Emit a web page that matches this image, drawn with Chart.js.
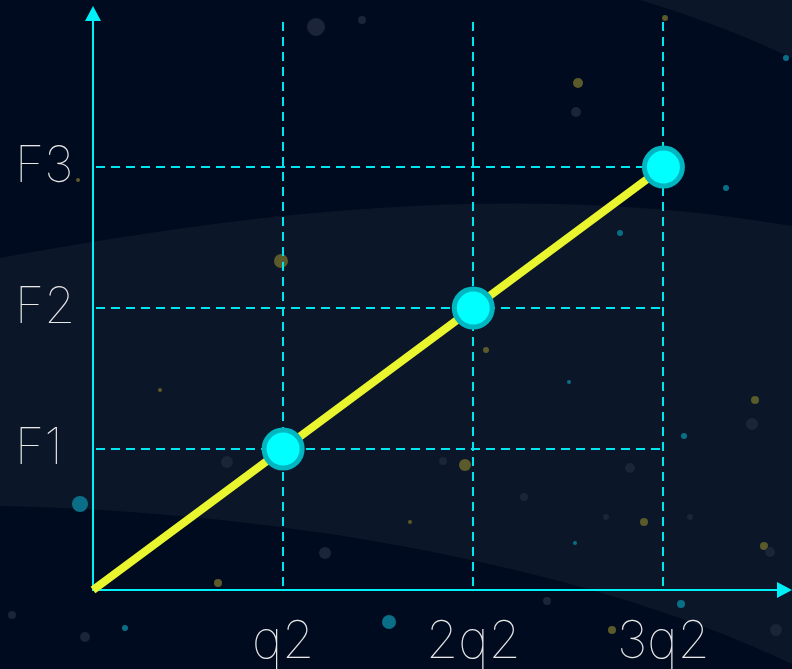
<!DOCTYPE html>
<html>
<head>
<meta charset="utf-8">
<script src="https://cdn.jsdelivr.net/npm/chart.js@4.4.0/dist/chart.umd.min.js"></script>
<style>
  html, body { margin: 0; padding: 0; background: #010b1f; }
  #wrap { width: 792px; height: 669px; position: relative; }
</style>
</head>
<body>
<div id="wrap"><canvas id="chart"></canvas></div>
<script>
// chart data
const xValues = [0, 1, 2, 3];
const yValues = [0, 1, 2, 3];
const xTickValues = [1, 2, 3];
const xTickLabels = ["q2", "2q2", "3q2"];
const yTickValues = [1, 2, 3];
const yTickLabels = ["F1", "F2", "F3"];

// background specks (decoration only)
const specks = [
  [316, 27, 9, "#1b2438"], [362, 20, 4, "#1b2438"], [665, 18, 3, "#5a5a2a"],
  [578, 83, 5, "#5a5a2a"], [576, 112, 5, "#1b2438"], [786, 58, 3, "#0a6f86"],
  [78, 180, 2, "#5a5a2a"], [726, 188, 3, "#0a6f86"], [620, 233, 3, "#0a6f86"],
  [281, 261, 7, "#5a5a2a"], [486, 350, 3, "#5a5a2a"], [160, 390, 2, "#5a5a2a"],
  [755, 400, 4, "#5a5a2a"], [684, 436, 3, "#0a6f86"], [752, 424, 6, "#1b2438"],
  [465, 465, 6, "#5a5a2a"], [630, 468, 5, "#1b2438"], [227, 462, 6, "#1b2438"],
  [80, 504, 8, "#0a6f86"], [524, 497, 4, "#1b2438"], [644, 522, 4, "#5a5a2a"],
  [764, 546, 4, "#5a5a2a"], [770, 552, 5, "#1b2438"], [325, 553, 6, "#1b2438"],
  [218, 583, 4, "#5a5a2a"], [389, 622, 7, "#0a6f86"], [125, 628, 3, "#0a6f86"],
  [681, 604, 4, "#0a6f86"], [776, 630, 6, "#1b2438"], [85, 637, 5, "#1b2438"],
  [12, 615, 4, "#1b2438"], [606, 517, 3, "#1b2438"], [410, 522, 2, "#5a5a2a"],
  [575, 543, 2, "#0a6f86"], [569, 382, 2, "#0a6f86"], [690, 517, 3, "#1b2438"],
  [443, 461, 4, "#1b2438"], [612, 630, 4, "#5a5a2a"], [547, 601, 4, "#1b2438"]
];

const backdrop = {
  id: "backdrop",
  beforeDraw(chart) {
    const ctx = chart.ctx;
    const w = chart.width, h = chart.height;
    ctx.save();
    ctx.fillStyle = "#010b1f";
    ctx.fillRect(0, 0, w, h);

    // lighter band across the middle
    ctx.fillStyle = "#0c1629";
    ctx.beginPath();
    ctx.moveTo(0, 258);
    ctx.bezierCurveTo(250, 212, 520, 180, w, 226);
    ctx.lineTo(w, 664);
    ctx.bezierCurveTo(600, 572, 300, 512, 0, 506);
    ctx.closePath();
    ctx.fill();

    // top-right corner
    ctx.beginPath();
    ctx.moveTo(640, 0);
    ctx.quadraticCurveTo(720, 24, w, 58);
    ctx.lineTo(w, 0);
    ctx.closePath();
    ctx.fill();

    specks.forEach(function (s) {
      ctx.fillStyle = s[3];
      ctx.beginPath();
      ctx.arc(s[0], s[1], s[2], 0, Math.PI * 2);
      ctx.fill();
    });
    ctx.restore();
  }
};

// dashed guides + axis arrows
const guides = {
  id: "guides",
  beforeDatasetsDraw(chart) {
    const ctx = chart.ctx;
    const xs = chart.scales.x, ys = chart.scales.y;
    const area = chart.chartArea;
    const xEnd = xs.getPixelForValue(xTickValues[xTickValues.length - 1]);
    ctx.save();
    ctx.strokeStyle = "#00e6f0";
    ctx.lineWidth = 2;
    ctx.setLineDash([9, 6]);
    xTickValues.forEach(function (v) {
      const px = Math.round(xs.getPixelForValue(v));
      ctx.beginPath();
      ctx.moveTo(px, area.top - 2);
      ctx.lineTo(px, area.bottom);
      ctx.stroke();
    });
    yTickValues.forEach(function (v) {
      const py = Math.round(ys.getPixelForValue(v));
      ctx.beginPath();
      ctx.moveTo(area.left + 3, py);
      ctx.lineTo(xEnd, py);
      ctx.stroke();
    });
    ctx.setLineDash([]);

    // axis extensions and arrow heads
    const tipX = chart.width;
    ctx.strokeStyle = "#00f0f8";
    ctx.lineWidth = 2;
    ctx.beginPath();
    ctx.moveTo(area.right, area.bottom);
    ctx.lineTo(tipX - 12, area.bottom);
    ctx.moveTo(area.left, area.top);
    ctx.lineTo(area.left, 20);
    ctx.stroke();

    ctx.fillStyle = "#00f0f8";
    ctx.beginPath();
    ctx.moveTo(area.left - 8, 21);
    ctx.lineTo(area.left + 8, 21);
    ctx.lineTo(area.left, 6);
    ctx.closePath();
    ctx.fill();
    ctx.beginPath();
    ctx.moveTo(tipX - 15, area.bottom - 8);
    ctx.lineTo(tipX - 15, area.bottom + 8);
    ctx.lineTo(tipX, area.bottom);
    ctx.closePath();
    ctx.fill();
    ctx.restore();
  }
};

const tickFont = { family: "Inter", size: 52, weight: 100 };

new Chart(document.getElementById("chart"), {
  type: "scatter",
  data: {
    datasets: [
      {
        data: xValues.map(function (x, i) { return { x: x, y: yValues[i] }; }),
        showLine: true,
        borderColor: "#e9f52e",
        borderWidth: 8,
        pointRadius: function (c) { return c.dataIndex === 0 ? 0 : 19; },
        pointHoverRadius: function (c) { return c.dataIndex === 0 ? 0 : 19; },
        pointBackgroundColor: "#00ffff",
        pointBorderColor: "#00b6c0",
        pointBorderWidth: 5,
        clip: false,
      },
    ],
  },
  options: {
    responsive: true,
    maintainAspectRatio: false,
    animation: false,
    layout: { padding: { top: 24, right: 24, left: 15, bottom: 0 } },
    plugins: {
      legend: { display: false },
      tooltip: { enabled: false },
    },
    scales: {
      x: {
        type: "linear",
        min: 0,
        max: 3.55,
        grid: { display: false, drawTicks: false },
        border: { display: true, color: "#00f0f8", width: 2 },
        afterBuildTicks: function (s) {
          s.ticks = xTickValues.map(function (v) { return { value: v }; });
        },
        afterFit: function (s) {
          s.height = 79;
          s.paddingLeft = 0;
          s.paddingRight = 0;
        },
        ticks: {
          color: "#e8e8e8",
          font: tickFont,
          padding: 21,
          maxRotation: 0,
          callback: function (v) { return xTickLabels[xTickValues.indexOf(v)]; },
        },
      },
      y: {
        type: "linear",
        min: 0,
        max: 4.015,
        grid: { display: false, drawTicks: false },
        border: { display: true, color: "#00f0f8", width: 2 },
        afterBuildTicks: function (s) {
          s.ticks = yTickValues.map(function (v) { return { value: v }; });
        },
        afterFit: function (s) {
          s.width = 78;
          s.paddingTop = 0;
          s.paddingBottom = 0;
        },
        ticks: {
          color: "#e8e8e8",
          font: { family: "Inter", size: 50, weight: 100 },
          crossAlign: "far",
          callback: function (v) { return yTickLabels[yTickValues.indexOf(v)]; },
        },
      },
    },
  },
  plugins: [backdrop, guides],
});
</script>
</body>
</html>
